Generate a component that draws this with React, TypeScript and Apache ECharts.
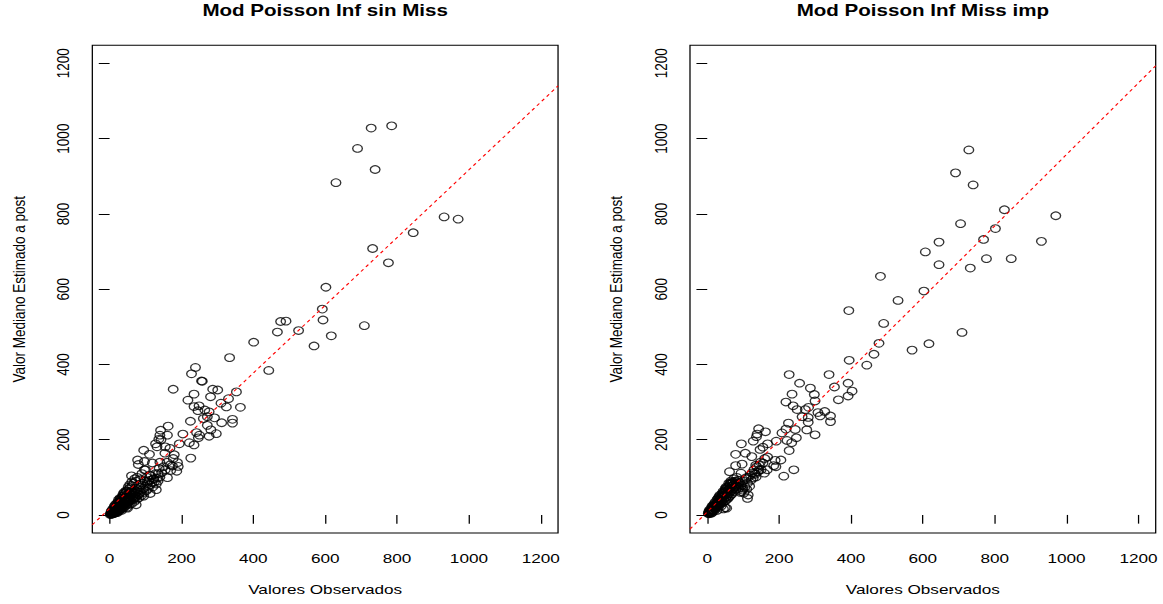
import { useEffect, useRef } from "react";
import * as echarts from "echarts";

// The figure is laid out in a narrower box and widened horizontally by CSS,
// which gives the wide glyphs and oval markers of the plot.
const STRETCH = 1.27;
const PAGE_W = 1163;
const PAGE_H = 604;
const CHART_W = PAGE_W / STRETCH;

const AXIS_MIN = -48;
const AXIS_MAX = 1248;
const TICKS = [0, 200, 400, 600, 800, 1000, 1200];

const sinMissTitle = "Mod Poisson Inf sin Miss";
const missImpTitle = "Mod Poisson Inf Miss imp";
const xName = "Valores Observados";
const yName = "Valor Mediano Estimado a post";

// fitted reference lines (estimated = intercept + slope * observed)
const sinMissFit = { intercept: 17, slope: 0.9 };
const missImpFit = { intercept: 8, slope: 0.95 };

// [observed, estimated] — small-count areas
const sinMissCluster: [number, number][] = [
  [2, 1], [3, 2], [4, 3], [5, 2], [5, 5], [6, 4], [7, 6], [8, 3], [8, 8], [9, 5],
  [10, 7], [10, 12], [11, 9], [12, 4], [12, 14], [13, 10], [14, 8], [14, 18], [15, 12], [16, 6],
  [16, 15], [17, 20], [18, 10], [18, 14], [19, 24], [20, 16], [20, 8], [21, 19], [22, 12], [22, 28],
  [23, 22], [24, 15], [24, 32], [25, 18], [26, 24], [26, 10], [27, 30], [28, 20], [28, 36], [29, 14],
  [30, 26], [30, 40], [31, 22], [32, 30], [32, 16], [33, 44], [34, 28], [35, 20], [35, 36], [36, 24],
  [37, 48], [38, 32], [38, 18], [39, 40], [40, 28], [40, 52], [41, 36], [42, 22], [42, 44], [43, 30],
  [44, 58], [45, 38], [45, 26], [46, 48], [47, 34], [48, 62], [48, 20], [49, 42], [50, 30], [50, 55],
  [51, 46], [52, 36], [53, 68], [54, 40], [55, 28], [55, 58], [56, 48], [57, 72], [58, 38], [59, 52],
  [60, 44], [60, 64], [61, 30], [62, 56], [63, 78], [64, 48], [65, 40], [66, 60], [67, 84], [68, 52],
  [69, 36], [70, 66], [71, 46], [72, 58], [73, 90], [74, 50], [75, 70], [76, 42], [78, 62], [80, 80],
  [80, 54], [82, 46], [84, 72], [85, 60], [86, 94], [88, 66], [90, 52], [92, 84], [94, 70], [96, 60],
  [98, 90], [100, 76], [102, 64], [104, 100], [106, 84], [108, 70], [110, 92], [112, 80], [115, 104], [118, 86],
  [120, 74], [122, 96], [125, 88], [128, 110], [130, 82], [132, 98], [135, 90], [138, 124], [140, 100], [145, 112],
  [150, 128], [155, 120], [160, 140], [170, 118], [175, 130], [180, 160],
  [4, 8], [6, 12], [9, 16], [11, 3], [13, 22], [15, 26], [17, 8], [19, 30], [21, 6], [23, 34],
  [25, 40], [27, 16], [29, 44], [31, 36], [33, 12], [36, 50], [38, 56], [41, 60], [43, 46], [46, 64],
  [52, 74], [56, 80], [58, 62], [62, 88], [66, 44], [70, 96], [77, 100], [83, 56], [90, 110], [100, 120],
];

// [observed, estimated] — larger counts
const sinMissSpread: [number, number][] = [
  [728, 1028], [785, 1034], [690, 974], [739, 918], [630, 883], [931, 792], [970, 786], [845, 750], [732, 708], [776, 670],
  [602, 605], [592, 547], [594, 518], [709, 503], [617, 476], [569, 449], [526, 490], [491, 515], [476, 514], [467, 486],
  [401, 459], [443, 384], [334, 418], [239, 392], [228, 375], [256, 356], [258, 355], [177, 334], [235, 321], [287, 334],
  [301, 332], [353, 327], [281, 314], [218, 305], [310, 297], [331, 309], [325, 287], [364, 286], [235, 288], [249, 290],
  [246, 277], [265, 279], [277, 274], [272, 261], [292, 258], [261, 256], [225, 249], [312, 245], [342, 254], [342, 244],
  [272, 238], [282, 226], [277, 209], [297, 216], [204, 215], [242, 219], [250, 212], [247, 205], [222, 192], [235, 186],
  [194, 189], [226, 151], [163, 236], [142, 225], [161, 212], [140, 212], [137, 201], [143, 200], [128, 189], [132, 181],
  [155, 181], [168, 177], [95, 172], [111, 161], [154, 164], [177, 150], [78, 146], [80, 134], [97, 142], [119, 138],
  [140, 140], [169, 133], [189, 139], [191, 129], [187, 116], [161, 99], [97, 120], [112, 106], [135, 110], [123, 96],
  [105, 89], [87, 80], [130, 67], [113, 57], [95, 50], [74, 27], [50, 18], [61, 104],
];

const missImpCluster: [number, number][] = [
  [3, 4], [4, 6], [5, 3], [6, 8], [7, 5], [8, 10], [9, 7], [10, 12], [11, 9], [12, 14],
  [13, 6], [14, 16], [15, 11], [16, 19], [17, 14], [18, 22], [19, 10], [20, 18], [21, 25], [22, 15],
  [23, 28], [24, 20], [25, 30], [26, 24], [27, 12], [28, 32], [29, 26], [30, 36], [31, 22], [32, 38],
  [33, 30], [34, 42], [35, 28], [36, 44], [37, 34], [38, 48], [39, 24], [40, 46], [41, 38], [42, 52],
  [43, 32], [44, 50], [45, 58], [46, 42], [47, 60], [48, 36], [49, 54], [50, 19], [50, 64], [51, 46],
  [52, 68], [53, 40], [54, 62], [55, 50], [56, 72], [57, 44], [58, 66], [59, 56], [60, 76], [61, 48],
  [62, 70], [63, 60], [64, 82], [65, 52], [66, 74], [67, 64], [68, 86], [69, 56], [70, 78], [71, 68],
  [72, 88], [74, 62], [75, 80], [76, 72], [78, 90], [80, 68], [82, 84], [84, 76], [86, 92], [88, 70],
  [90, 86], [92, 60], [95, 78], [98, 66], [100, 90], [102, 58], [105, 74], [108, 96], [110, 68], [112, 84],
  [115, 100], [118, 76], [120, 106], [122, 92], [125, 112], [128, 98], [130, 120], [134, 108], [138, 128], [140, 114],
  [145, 132], [148, 140], [150, 120], [155, 138], [160, 150],
  [5, 10], [7, 14], [10, 4], [12, 20], [14, 24], [17, 26], [20, 30], [22, 34], [25, 22], [27, 40],
  [30, 44], [33, 48], [35, 52], [38, 40], [41, 56], [44, 62], [47, 50], [50, 70], [53, 74], [57, 60],
  [60, 84], [63, 70], [66, 90], [70, 84], [74, 96], [78, 76], [82, 100], [87, 82],
];

const missImpSpread: [number, number][] = [
  [728, 970], [691, 909], [740, 877], [827, 811], [970, 795], [705, 774], [802, 761], [769, 732], [930, 727], [645, 725],
  [607, 699], [777, 681], [846, 681], [645, 665], [732, 656], [482, 634], [603, 595], [531, 570], [394, 543], [491, 509],
  [709, 485], [617, 455], [570, 438], [478, 456], [464, 427], [395, 411], [444, 398], [228, 373], [339, 373], [257, 350],
  [392, 350], [354, 340], [287, 337], [403, 329], [236, 321], [298, 320], [392, 316], [365, 306], [300, 303], [219, 300],
  [239, 290], [250, 280], [282, 286], [273, 280], [327, 275], [308, 272], [264, 261], [281, 259], [314, 263], [343, 263],
  [343, 248], [281, 246], [226, 244], [219, 228], [245, 227], [277, 226], [208, 218], [300, 213], [248, 205], [222, 198],
  [235, 192], [192, 196], [228, 171], [213, 103], [241, 120], [143, 229], [162, 221], [139, 215], [137, 208], [128, 196],
  [95, 189], [168, 189], [155, 180], [147, 174], [79, 161], [106, 164], [124, 155], [168, 154], [189, 145], [205, 146],
  [79, 131], [97, 135], [135, 132], [185, 131], [191, 128], [167, 120], [144, 119], [131, 111], [159, 111], [62, 115],
  [94, 111], [108, 99], [136, 101], [64, 84], [80, 88], [95, 62], [114, 53], [112, 44], [99, 71], [54, 18], [45, 16],
];

const FONT = "'Liberation Sans', Arial, Helvetica, sans-serif";
const GRID_TOP = 45.3;
const GRID_H = 487.7;
const GRID_W = 366.7;
const GRID_LEFTS = [72.7, 543.3];

function fitLine(fit: { intercept: number; slope: number }) {
  return [AXIS_MIN, AXIS_MAX].map((x) => [x, fit.intercept + fit.slope * x]);
}

function buildOption(): echarts.EChartsOption {
  const panels = [
    { title: sinMissTitle, points: [...sinMissCluster, ...sinMissSpread], fit: sinMissFit },
    { title: missImpTitle, points: [...missImpCluster, ...missImpSpread], fit: missImpFit },
  ];
  const textBase = { color: "#000", fontFamily: FONT };
  const plain = (v: number) => String(v);

  return {
    animation: false,
    backgroundColor: "#fff",
    title: panels.map((p, i) => ({
      text: p.title,
      left: GRID_LEFTS[i] + GRID_W / 2,
      top: 2,
      padding: 0,
      textAlign: "center",
      textStyle: { ...textBase, fontSize: 16.2, fontWeight: "bold" },
    })),
    grid: GRID_LEFTS.map((left) => ({
      left,
      top: GRID_TOP,
      width: GRID_W,
      height: GRID_H,
      show: true,
      borderColor: "#000",
      borderWidth: 1,
      backgroundColor: "transparent",
    })),
    xAxis: panels.map((_, i) => ({
      type: "value",
      gridIndex: i,
      min: AXIS_MIN,
      max: AXIS_MAX,
      name: xName,
      nameLocation: "middle",
      nameGap: 49,
      nameTextStyle: { ...textBase, fontSize: 13.5 },
      axisLine: { show: false },
      splitLine: { show: false },
      axisTick: {
        show: true,
        length: 8.7,
        customValues: TICKS,
        lineStyle: { color: "#000", width: 1 },
      },
      axisLabel: {
        customValues: TICKS,
        formatter: plain,
        margin: 18,
        fontSize: 13.5,
        ...textBase,
      },
    })),
    yAxis: panels.map((_, i) => ({
      type: "value",
      gridIndex: i,
      min: AXIS_MIN,
      max: AXIS_MAX,
      name: yName,
      nameLocation: "middle",
      nameGap: 51,
      nameTextStyle: { ...textBase, fontSize: 13.5 },
      axisLine: { show: false },
      splitLine: { show: false },
      axisTick: {
        show: true,
        length: 8.5,
        customValues: TICKS,
        lineStyle: { color: "#000", width: 1 },
      },
      axisLabel: {
        customValues: TICKS,
        formatter: plain,
        rotate: 90,
        margin: 16,
        fontSize: 13.5,
        ...textBase,
      },
    })),
    series: [
      ...panels.map((p, i) => ({
        type: "scatter" as const,
        xAxisIndex: i,
        yAxisIndex: i,
        data: p.points,
        symbol: "circle",
        symbolSize: 7.6,
        silent: true,
        itemStyle: { color: "rgba(0,0,0,0)", borderColor: "#000", borderWidth: 1.1 },
        z: 2,
      })),
      ...panels.map((p, i) => ({
        type: "line" as const,
        xAxisIndex: i,
        yAxisIndex: i,
        data: fitLine(p.fit),
        showSymbol: false,
        clip: true,
        silent: true,
        lineStyle: { color: "#ff0000", width: 1, type: [3, 3] as number[] },
        z: 3,
      })),
    ],
  };
}

export default function App() {
  const ref = useRef<HTMLDivElement>(null);

  useEffect(() => {
    if (!ref.current) return;
    const chart = echarts.init(ref.current, undefined, { renderer: "svg" });
    chart.setOption(buildOption());
    return () => chart.dispose();
  }, []);

  return (
    <div
      style={{
        position: "absolute",
        left: 0,
        top: 0,
        width: PAGE_W,
        height: PAGE_H,
        overflow: "hidden",
        background: "#fff",
      }}
    >
      <div
        ref={ref}
        style={{
          width: CHART_W,
          height: PAGE_H,
          transform: `scaleX(${STRETCH})`,
          transformOrigin: "0 0",
        }}
      />
    </div>
  );
}
